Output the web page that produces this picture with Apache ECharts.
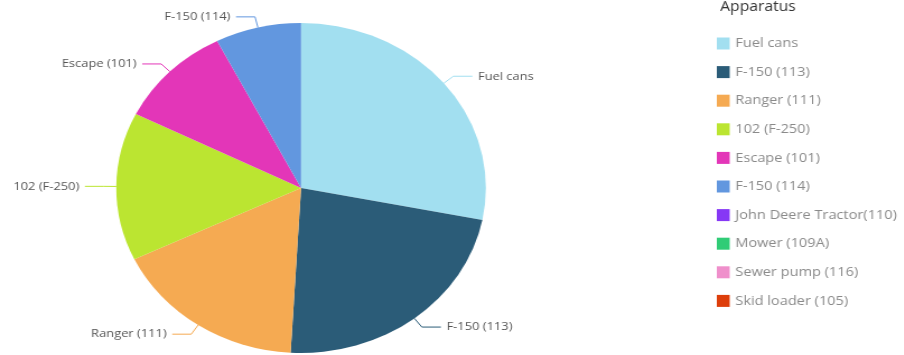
<!DOCTYPE html>
<html>
<head>
<meta charset="utf-8">
<script src="https://cdn.jsdelivr.net/npm/echarts@6/dist/echarts.min.js"></script>
<style>
html,body{margin:0;padding:0;background:#fff;overflow:hidden;width:904px;height:355px;}
#chart{width:808px;height:355px;transform:scaleX(1.12);transform-origin:0 0;}
</style>
</head>
<body>
<div id="chart"></div>
<script>
const legendTitle = 'Apparatus';
const categories = ['Fuel cans','F-150 (113)','Ranger (111)','102 (F-250)','Escape (101)','F-150 (114)','John Deere Tractor(110)','Mower (109A)','Sewer pump (116)','Skid loader (105)'];
const values = [28.1, 22.8, 17.0, 14.5, 10.1, 7.5, 0, 0, 0, 0];
const colors = ['#a2dff0','#2b5c78','#f5aa52','#bbe531','#e336b8','#6297df','#8638f5','#30cc76','#ef8fcb','#dd3e0b'];

const chart = echarts.init(document.getElementById('chart'));
const data = categories.map((name, i) => {
  const item = { name: name, value: values[i] };
  if (values[i] === 0) {
    item.label = { show: false };
    item.labelLine = { show: false };
  }
  return item;
});
chart.setOption({
  animation: false,
  color: colors,
  title: {
    text: legendTitle,
    left: 638,
    top: -5,
    textStyle: { fontFamily: 'Open Sans', fontSize: 14, fontWeight: 'normal', color: '#333' }
  },
  legend: {
    orient: 'vertical',
    left: 635,
    top: 32,
    itemWidth: 11.5,
    itemHeight: 12,
    itemGap: 15.6,
    icon: 'rect',
    data: categories,
    textStyle: { fontFamily: 'Open Sans', fontSize: 13, color: '#8a8a8a' }
  },
  series: [{
    type: 'pie',
    center: [268.8, 188],
    radius: [0, 165],
    startAngle: 90,
    clockwise: true,
    avoidLabelOverlap: true,
    label: {
      show: true,
      position: 'outside',
      fontFamily: 'Open Sans',
      fontSize: 11.5,
      color: '#555'
    },
    labelLine: { show: true, length: 11, length2: 17, lineStyle: { width: 1 } },
    data: data
  }]
});
</script>
</body>
</html>
